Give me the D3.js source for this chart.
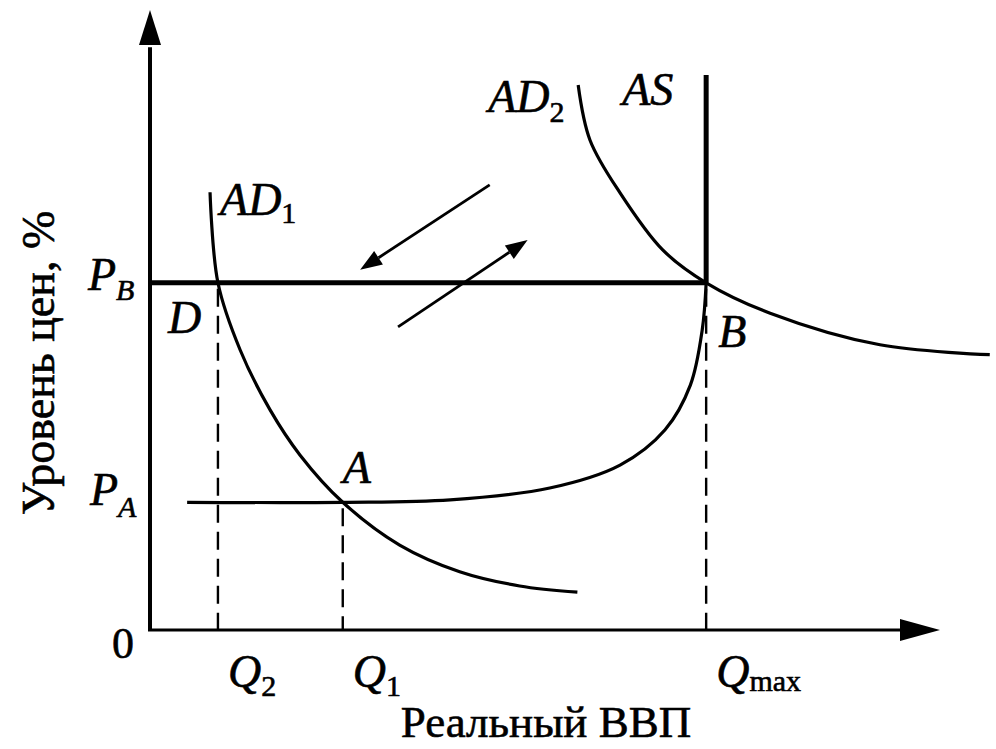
<!DOCTYPE html>
<html>
<head>
<meta charset="utf-8">
<script src="https://cdn.jsdelivr.net/npm/d3@7"></script>
<style>
  body { margin: 0; background: #fff; }
  text { font-family: "Liberation Serif", "DejaVu Serif", serif; fill: #000; stroke: #000; stroke-width: 0.6px; }
  .it { font-style: italic; }
</style>
</head>
<body>
<svg width="996" height="749"></svg>
<script>
// curve values in chart units (0..100 on both axes)
var ad1X = [7.6, 8.6, 11.4, 15.2, 19.0, 24.4, 31.6, 39.2, 46.8, 54.1],
    ad1Y = [70.6, 56.0, 45.2, 35.5, 28.2, 20.6, 13.7, 9.4, 7.1, 6.1];
var ad2X = [54.2, 55.7, 59.5, 64.9, 70.4, 78.5, 92.4, 106.3],
    ad2Y = [87.9, 79.0, 70.5, 61.3, 56.0, 51.1, 46.0, 44.4];
var pathX = [4.7, 24.4, 38.0, 50.6, 59.5, 65.2, 68.4, 69.9, 70.4],
    pathY = [20.6, 20.6, 21.0, 22.9, 26.6, 32.3, 39.5, 48.4, 56.0];
var qLevels = [8.6, 24.4, 70.4],
    qNames = ["2", "1", "max"];
var pLevels = [20.6, 56.0],
    pNames = ["A", "B"];
var asTop = 89.5;
var shiftArrows = [[43.0, 71.8, 26.6, 58.1], [31.4, 48.9, 47.8, 62.9]];

var svg = d3.select("svg");

var x = d3.scaleLinear().domain([0, 100]).range([150, 940]),
    y = d3.scaleLinear().domain([0, 100]).range([630, 10]);

var line = d3.line()
    .curve(d3.curveCatmullRom.alpha(0.5))
    .x(function(d) { return x(d[0]); })
    .y(function(d) { return y(d[1]); });

function zip(a, b) { return a.map(function(v, i) { return [v, b[i]]; }); }

// dashed drop lines
var dropTops = [pLevels[1], pLevels[0], pLevels[1]];
svg.selectAll(".drop").data(qLevels).enter().append("line")
    .attr("x1", function(d) { return x(d); })
    .attr("x2", function(d) { return x(d); })
    .attr("y1", function(d, i) { return y(dropTops[i]) + 6; })
    .attr("y2", y(0))
    .attr("stroke", "#000").attr("stroke-width", 2.4)
    .attr("stroke-dasharray", "18,9");

// axes
svg.append("line")
    .attr("x1", x(0)).attr("y1", y(0)).attr("x2", x(0)).attr("y2", y(94))
    .attr("stroke", "#000").attr("stroke-width", 4);
svg.append("line")
    .attr("x1", x(0) - 2).attr("y1", y(0)).attr("x2", x(95)).attr("y2", y(0))
    .attr("stroke", "#000").attr("stroke-width", 3.2);
svg.append("path")
    .attr("d", "M" + x(0) + "," + y(100) + "L" + (x(0) - 11) + "," + (y(100) + 35) +
               "L" + (x(0) + 11) + "," + (y(100) + 35) + "Z");
svg.append("path")
    .attr("d", "M" + x(100) + "," + y(0) + "L" + (x(100) - 40) + "," + (y(0) - 11) +
               "L" + (x(100) - 40) + "," + (y(0) + 11) + "Z");

// price level line P_B and AS
svg.append("line")
    .attr("x1", x(0)).attr("x2", x(qLevels[2])).attr("y1", y(pLevels[1])).attr("y2", y(pLevels[1]))
    .attr("stroke", "#000").attr("stroke-width", 5);
svg.append("line")
    .attr("x1", x(qLevels[2])).attr("x2", x(qLevels[2])).attr("y1", y(asTop)).attr("y2", y(pLevels[1]))
    .attr("stroke", "#000").attr("stroke-width", 5);

// curves
[zip(ad1X, ad1Y), zip(ad2X, ad2Y), zip(pathX, pathY)].forEach(function(pts) {
  svg.append("path").attr("d", line(pts))
      .attr("fill", "none").attr("stroke", "#000").attr("stroke-width", 3.2);
});

// shift arrows
shiftArrows.forEach(function(a) {
  var x1 = x(a[0]), y1 = y(a[1]), x2 = x(a[2]), y2 = y(a[3]);
  var ang = Math.atan2(y2 - y1, x2 - x1), L = 22, W = 8;
  var bx = x2 - L * Math.cos(ang), by = y2 - L * Math.sin(ang);
  svg.append("line").attr("x1", x1).attr("y1", y1).attr("x2", bx).attr("y2", by)
      .attr("stroke", "#000").attr("stroke-width", 2.8);
  svg.append("path").attr("d",
      "M" + x2 + "," + y2 +
      "L" + (bx + W * Math.sin(ang)) + "," + (by - W * Math.cos(ang)) +
      "L" + (bx - W * Math.sin(ang)) + "," + (by + W * Math.cos(ang)) + "Z");
});

function label(px, py, main, sub, opts) {
  opts = opts || {};
  var t = svg.append("text").attr("x", px).attr("y", py)
      .attr("class", "it").style("font-size", (opts.size || 46) + "px");
  t.append("tspan").text(main);
  if (sub) {
    var s = t.append("tspan").attr("dy", opts.subDy || 10)
        .style("font-size", (opts.subSize || 30) + "px").text(sub);
    if (opts.subUpright) s.style("font-style", "normal");
  }
  return t;
}

// curve labels
label(x(ad1X[0]) + 10, y(ad1Y[0]) + 23, "AD", "1", {subDy: 8, subUpright: true});
label(x(ad2X[0]) - 90, y(ad2Y[0]) + 27, "AD", "2", {subDy: 10, subUpright: true});
label(x(qLevels[2]) - 84, y(asTop) + 30, "AS");

// point labels
label(x(0) - 62, y(pLevels[1]) + 7, "P", pNames[1], {subDy: 10, subSize: 30});
label(x(0) - 60, y(pLevels[0]) + 3, "P", pNames[0], {subDy: 12, subSize: 30});
label(x(qLevels[0]) - 50, y(pLevels[1]) + 50, "D");
label(x(qLevels[1]), y(pLevels[0]) - 19, "A");
label(x(qLevels[2]) + 12, y(pLevels[1]) + 64, "B");
svg.append("text").attr("x", x(0) - 38).attr("y", y(0) + 28)
    .style("font-size", "44px").text("0");

// Q labels
qLevels.forEach(function(q, i) {
  var isMax = qNames[i] === "max";
  label(x(q) + 10, y(0) + 57, "Q", qNames[i],
        {subDy: isMax ? 4 : 9, subSize: 30, subUpright: true});
});

// axis titles
svg.append("text").attr("x", 546).attr("y", 737).attr("text-anchor", "middle")
    .style("font-size", "45px").text("Реальный ВВП");
svg.append("text").attr("transform", "translate(54,363) rotate(-90)")
    .attr("text-anchor", "middle").style("font-size", "46px").text("Уровень цен, %");
</script>
</body>
</html>
